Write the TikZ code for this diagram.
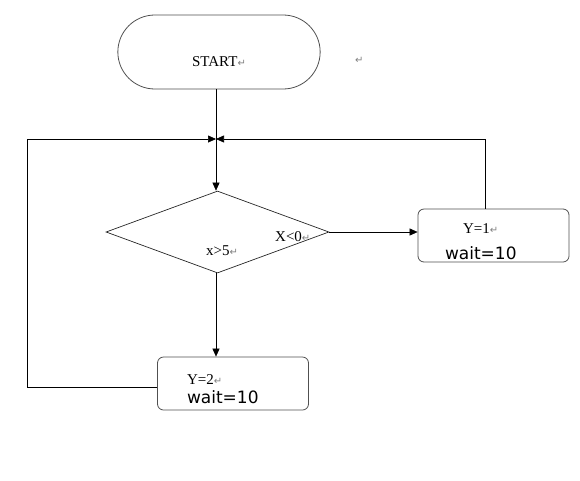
\documentclass[tikz,border=0pt]{standalone}
\usepackage{fontspec}
\setmainfont{Liberation Serif}
\newfontfamily\waitfont{DejaVu Sans}
\newfontfamily\markfont{DejaVu Sans}
\usetikzlibrary{shapes.geometric, shapes.misc, arrows.meta, positioning}
\definecolor{EdgeGray}{HTML}{505050}
\newcommand{\parmark}{{\markfont\fontsize{10}{10}\selectfont\textcolor{gray}{↵}}}
\newcommand{\waittext}{{\waitfont\fontsize{17}{17}\selectfont wait=10}}
\tikzset{
  startbox/.style={rounded rectangle, draw=EdgeGray, line width=0.8pt,
                minimum width=209pt, minimum height=74pt,
                font=\fontsize{15}{17}\selectfont, text height=30pt, text depth=2pt},
  condbox/.style={diamond, draw=black!85, line width=0.7pt,
                minimum width=223pt, minimum height=82pt, inner sep=0pt},
  stepbox/.style={rectangle, rounded corners=6pt, draw=EdgeGray, line width=0.8pt,
                minimum width=151pt, minimum height=53pt, inner sep=0pt,
                align=left, text width=#1, font=\fontsize{15}{17}\selectfont},
  condtext/.style={anchor=base west, inner sep=0pt, font=\fontsize{15}{17}\selectfont},
  flow/.style={-{Triangle[length=8pt,width=7pt]}, line width=0.6pt},
}
\begin{document}
\begin{tikzpicture}[x=1pt, y=-1pt]
    \useasboundingbox (0,0) rectangle (580,480);

    % Coordinate map (pixels of the 580x480 picture, y downwards):
    % (start) at (219, 52)    -- 203 x 74 -- "START"
    % (cond)  at (217, 232)   -- 222 x 82 diamond
    % (yone)  at (493.5, 235.5) -- 151 x 53 -- "Y=1 / wait=10"
    % (ytwo)  at (233, 383.5) -- 151 x 53 -- "Y=2 / wait=10"

    \node[startbox] (start) at (219,52) {START\parmark};
    \node[condbox] (cond) at (217.5,232) {};
    \node[stepbox=97pt] (yone) at (493.5,235.5)
        {\rule{0pt}{22pt}\hspace*{18pt}Y=1\parmark\\[9pt]\waittext};
    \node[stepbox=92pt] (ytwo) at (233,383.5)
        {\rule{0pt}{22pt}Y=2\parmark\\[2pt]\waittext};
    \coordinate (join) at (216,139);
    \coordinate (loop) at (27,139);

    \node[condtext] (xneg) at (275,241) {X<0\parmark};
    \node[condtext] (xbig) at (206,255) {x>5\parmark};
    \node[condtext] (stray) at (355,63) {\parmark};

    \draw[flow] (start.south -| join) -- (cond.north -| join);
    \draw[flow] (cond.east) -- (cond.east -| yone.west);
    \draw[flow] (cond.south -| join) -- (ytwo.north -| join);
    \draw[flow] ([xshift=-8.5pt]yone.north) |- (join);
    \draw[flow] ([yshift=-3.5pt]ytwo.west) -| (loop) -- (join);
\end{tikzpicture}
\end{document}
